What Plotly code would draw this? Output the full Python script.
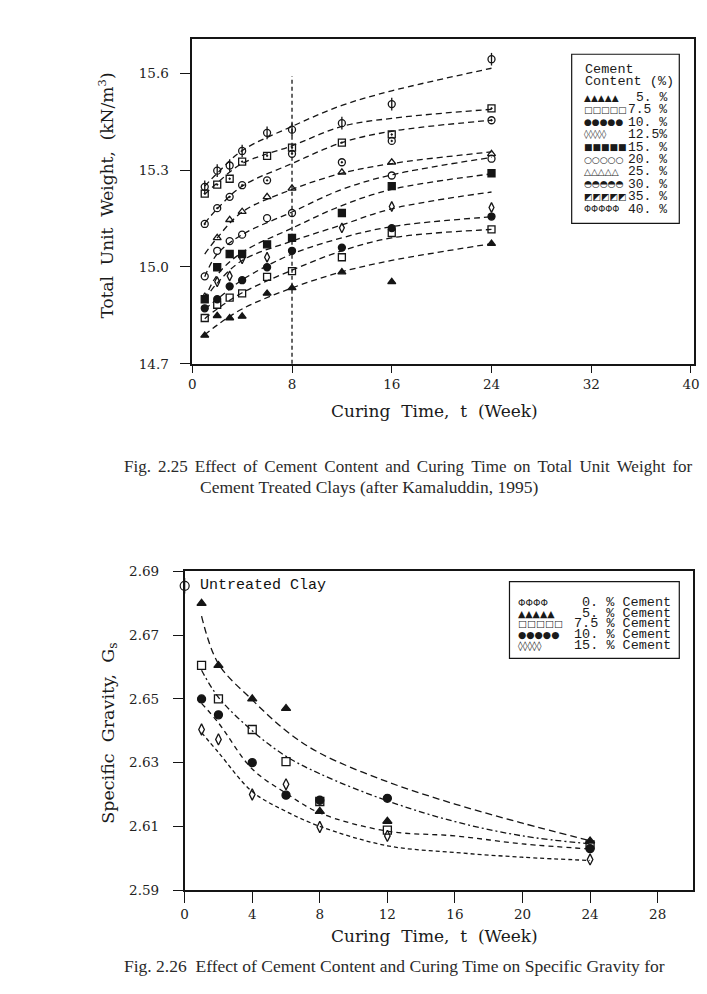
import plotly.graph_objects as go

# ---------------- data: Fig 2.25 (total unit weight) ----------------
T_TOP = [1, 2, 3, 4, 6, 8, 12, 16, 24]
W5 = [14.788, 14.849, 14.842, 14.847, 14.918, 14.935, 14.984, 14.954, 15.072]
W7_5 = [14.842, 14.883, 14.905, 14.918, 14.969, 14.987, 15.030, 15.105, 15.116]
W10 = [14.872, 14.900, 14.940, 14.959, 14.999, 15.050, 15.060, 15.120, 15.156]
W12_5 = [14.905, 14.954, 14.972, 15.025, 15.030, None, 15.121, 15.187, 15.184]
W15 = [14.900, 14.999, 15.040, 15.040, 15.070, 15.090, 15.167, 15.250, 15.290]
W20 = [14.971, 15.050, 15.080, 15.100, 15.151, 15.167, None, 15.283, 15.335]
W25 = [None, 15.090, 15.146, 15.171, 15.217, 15.243, 15.293, 15.324, 15.350]
W30 = [15.133, 15.182, 15.217, 15.253, 15.268, 15.350, 15.324, 15.390, 15.454]
W35 = [15.227, 15.255, 15.273, 15.326, 15.344, 15.369, 15.385, 15.410, 15.491]
W40 = [15.248, 15.298, 15.314, 15.359, 15.415, 15.425, 15.445, 15.504, 15.643]

# fitted trend curves
T_FIT_TOP = [1, 2, 4, 8, 12, 16, 24]
F5 = [14.79, 14.82, 14.87, 14.935, 14.985, 15.02, 15.072]
F7_5 = [14.84, 14.87, 14.92, 14.99, 15.05, 15.09, 15.116]
F10 = [14.87, 14.90, 14.96, 15.04, 15.09, 15.125, 15.155]
F12_5 = [14.90, 14.95, 15.02, 15.08, 15.13, 15.18, 15.232]
F15 = [14.90, 14.975, 15.045, 15.12, 15.19, 15.24, 15.288]
F20 = [14.97, 15.04, 15.10, 15.17, 15.24, 15.285, 15.339]
F25 = [15.04, 15.09, 15.17, 15.24, 15.29, 15.32, 15.356]
F30 = [15.135, 15.18, 15.25, 15.32, 15.385, 15.42, 15.454]
F35 = [15.225, 15.26, 15.32, 15.375, 15.435, 15.46, 15.488]
F40 = [15.25, 15.29, 15.36, 15.435, 15.50, 15.545, 15.615]

REF_WEEK = 8
REF_TOP = 15.59

CEMENT_TOP = ["5. %", "7.5 %", "10. %", "12.5%", "15. %", "20. %", "25. %", "30. %", "35. %", "40. %"]
X_TICKS_TOP = [0, 8, 16, 24, 32, 40]
Y_TICKS_TOP = [14.7, 15.0, 15.3, 15.6]
Y_TICKTEXT_TOP = ["14.7", "15.0", "15.3", "15.6"]

# ---------------- data: Fig 2.26 (specific gravity) ----------------
T_UNTREATED = [0]
G0 = [2.6855]
T_BOT = [1, 2, 4, 6, 8, 12, 24]
G5 = [2.680, 2.6605, 2.650, 2.647, 2.6147, 2.6116, 2.6054]
G7_5 = [2.6605, 2.650, 2.6404, 2.6303, 2.6178, 2.6088, 2.6042]
G10 = [2.650, 2.645, 2.630, 2.6198, 2.6182, 2.6188, 2.6030]
G15 = [2.6404, 2.6373, 2.620, 2.6232, 2.6098, 2.6070, 2.5996]

T_FIT_BOT = [1, 2, 4, 6, 8, 12, 16, 20, 24]
B5 = [2.676, 2.661, 2.6497, 2.640, 2.633, 2.624, 2.617, 2.611, 2.6055]
B7_5 = [2.659, 2.6505, 2.640, 2.632, 2.6265, 2.618, 2.6115, 2.607, 2.6045]
B10 = [2.6486, 2.6425, 2.628, 2.6204, 2.6142, 2.6085, 2.607, 2.6045, 2.6029]
B15 = [2.6394, 2.6332, 2.6209, 2.6147, 2.610, 2.6039, 2.6018, 2.6003, 2.5993]

CEMENT_BOT = ["0. % Cement", "5. % Cement", "7.5 % Cement", "10. % Cement", "15. % Cement"]
X_TICKS_BOT = [0, 4, 8, 12, 16, 20, 24, 28]
Y_TICKS_BOT = [2.59, 2.61, 2.63, 2.65, 2.67, 2.69]
Y_TICKTEXT_BOT = ["2.59", "2.61", "2.63", "2.65", "2.67", "2.69"]

# ---------------- figure ----------------
W, H = 707, 994


def PX(x):
    return x / W


def PY(y):
    return 1 - y / H


INK = "#151515"
fig = go.Figure()

top_series = [W5, W7_5, W10, W12_5, W15, W20, W25, W30, W35, W40]
top_fits = [F5, F7_5, F10, F12_5, F15, F20, F25, F30, F35, F40]
top_symbols = ["triangle-up", "square-open", "circle", "diamond-tall-open", "square",
               "circle-open", "triangle-up-open", "circle-open-dot", "square-open-dot", "circle-open"]

for fit in top_fits:
    fig.add_trace(go.Scatter(x=T_FIT_TOP, y=fit, mode="lines", line_shape="spline",
                             line=dict(color=INK, width=1.3, dash="6px,4px"),
                             xaxis="x", yaxis="y", hoverinfo="skip"))

fig.add_trace(go.Scatter(x=[REF_WEEK, REF_WEEK], y=[Y_TICKS_TOP[0], REF_TOP], mode="lines",
                         line=dict(color=INK, width=1.3, dash="4px,3px"), xaxis="x", yaxis="y"))

for vals, sym in zip(top_series, top_symbols):
    fig.add_trace(go.Scatter(x=T_TOP, y=vals, mode="markers",
                             marker=dict(symbol=sym, size=7, color=INK, line=dict(color=INK, width=1.3)),
                             xaxis="x", yaxis="y", cliponaxis=False))
# vertical stroke through the 40 % circles
fig.add_trace(go.Scatter(x=T_TOP, y=W40, mode="markers",
                         marker=dict(symbol="line-ns-open", size=9, color=INK, line=dict(color=INK, width=1.3)),
                         xaxis="x", yaxis="y", cliponaxis=False))

bot_series = [G5, G7_5, G10, G15]
bot_fits = [B5, B7_5, B10, B15]
bot_symbols = ["triangle-up", "square-open", "circle", "diamond-tall-open"]
bot_dash = ["7px,4px", "6px,3px,2px,3px", "5px,4px", "4px,3px"]

for fit, d in zip(bot_fits, bot_dash):
    fig.add_trace(go.Scatter(x=T_FIT_BOT, y=fit, mode="lines", line_shape="spline",
                             line=dict(color=INK, width=1.3, dash=d), xaxis="x2", yaxis="y2"))
for vals, sym in zip(bot_series, bot_symbols):
    fig.add_trace(go.Scatter(x=T_BOT, y=vals, mode="markers",
                             marker=dict(symbol=sym, size=8, color=INK, line=dict(color=INK, width=1.3)),
                             xaxis="x2", yaxis="y2", cliponaxis=False))
fig.add_trace(go.Scatter(x=T_UNTREATED, y=G0, mode="markers",
                         marker=dict(symbol="circle-open", size=9, color=INK, line=dict(color=INK, width=1.2)),
                         xaxis="x2", yaxis="y2", cliponaxis=False))
fig.add_trace(go.Scatter(x=T_UNTREATED, y=G0, mode="markers",
                         marker=dict(symbol="line-ns-open", size=11, color=INK, line=dict(color=INK, width=1.2)),
                         xaxis="x2", yaxis="y2", cliponaxis=False))

axis_common = dict(showgrid=False, zeroline=False, showline=True, linecolor=INK, linewidth=1.6,
                   mirror=True, ticks="outside", tickcolor=INK, tickwidth=1.2, ticklen=10,
                   tickfont=dict(family="DejaVu Serif", size=13.5, color="#222"))

fig.update_layout(
    width=W, height=H, margin=dict(l=0, r=0, t=0, b=0),
    paper_bgcolor="white", plot_bgcolor="white", showlegend=False,
    xaxis=dict(axis_common, domain=[PX(190.7), PX(699)], range=[0, 40.25],
               tickvals=X_TICKS_TOP, anchor="y", ticklen=7),
    yaxis=dict(axis_common, domain=[PY(361.7), PY(32)], range=[14.7, 15.704],
               tickvals=Y_TICKS_TOP, ticktext=Y_TICKTEXT_TOP, anchor="x", ticklabelstandoff=9),
    xaxis2=dict(axis_common, domain=[PX(183), PX(698)], range=[0, 30.1],
                tickvals=X_TICKS_BOT, anchor="y2", ticklen=11),
    yaxis2=dict(axis_common, domain=[PY(896.5), PY(572.7)], range=[2.59, 2.69],
                tickvals=Y_TICKS_BOT, ticktext=Y_TICKTEXT_BOT, anchor="x2", ticklabelstandoff=11),
)

ann = []


def text(x, y, s, size=13, family="Liberation Mono", xanchor="left", angle=0, color="#1a1a1a"):
    ann.append(dict(x=PX(x), y=PY(y), xref="paper", yref="paper", text=s, showarrow=False,
                    xanchor=xanchor, yanchor="middle", textangle=angle,
                    font=dict(family=family, size=size, color=color)))


SP = "&nbsp;"
# axis titles
text(103, 191, "Total" + SP + " Unit" + SP + " Weight," + SP + " (kN/m<sup>3</sup>)", size=17,
     family="DejaVu Serif", xanchor="center", angle=-90)
text(436, 410, "Curing" + SP + " Time," + SP + " t" + SP + " (Week)", size=17, family="DejaVu Serif",
     xanchor="center")
text(106, 737, "Specific" + SP + " Gravity," + SP + " G<sub>s</sub>", size=17.5, family="DejaVu Serif",
     xanchor="center", angle=-90)
text(436, 943, "Curing" + SP + " Time," + SP + " t" + SP + " (Week)", size=17, family="DejaVu Serif",
     xanchor="center")

# top legend
fig.add_shape(type="rect", xref="paper", yref="paper", x0=PX(575), x1=PX(684), y0=PY(219), y1=PY(47),
              line=dict(color=INK, width=1.2))
text(586, 62, "Cement", size=13.5)
text(586, 74.5, "Content (%)", size=13.5)
top_glyphs = ["▲▲▲▲▲", "□□□□□", "●●●●●", "◊◊◊◊◊", "■■■■■", "○○○○○", "△△△△△", "◓◓◓◓◓", "◩◩◩◩◩", "ΦΦΦΦΦ"]
for i, (g, lab) in enumerate(zip(top_glyphs, CEMENT_TOP)):
    yy = 91 + i * 12.6
    text(585, yy, g, size=9, family="DejaVu Sans")
    text(674, yy, lab, size=13, xanchor="right")

# bottom legend
fig.add_shape(type="rect", xref="paper", yref="paper", x0=PX(512), x1=PX(684), y0=PY(661), y1=PY(583),
              line=dict(color=INK, width=1.2))
bot_glyphs = ["ΦΦΦΦ", "▲▲▲▲▲", "□□□□□", "●●●●●", "◊◊◊◊◊"]
for i, (g, lab) in enumerate(zip(bot_glyphs, CEMENT_BOT)):
    yy = 604 + i * 11
    text(519, yy, g, size=9.5, family="DejaVu Sans")
    text(678, yy, lab, size=13.5, xanchor="right")

text(196, 587, "Untreated Clay", size=15, family="Liberation Mono", color="#111")

# captions
cap = "#2a2a2a"
JS = " &#8198;"  # slightly widened word spacing (justified line)
line1 = "Fig. 2.25 Effect of Cement Content and Curing Time on Total Unit Weight for"
text(120, 466, line1.replace(" ", JS), size=17, family="Liberation Serif", color=cap)
text(196, 487, "Cement Treated Clays (after Kamaluddin, 1995)", size=17.5, family="Liberation Serif",
     color=cap)
text(120, 974, "Fig. 2.26" + SP + " Effect of Cement Content and Curing Time on Specific Gravity for",
     size=17.5, family="Liberation Serif", color=cap)

fig.update_layout(annotations=ann)
fig.write_html("out.html")
